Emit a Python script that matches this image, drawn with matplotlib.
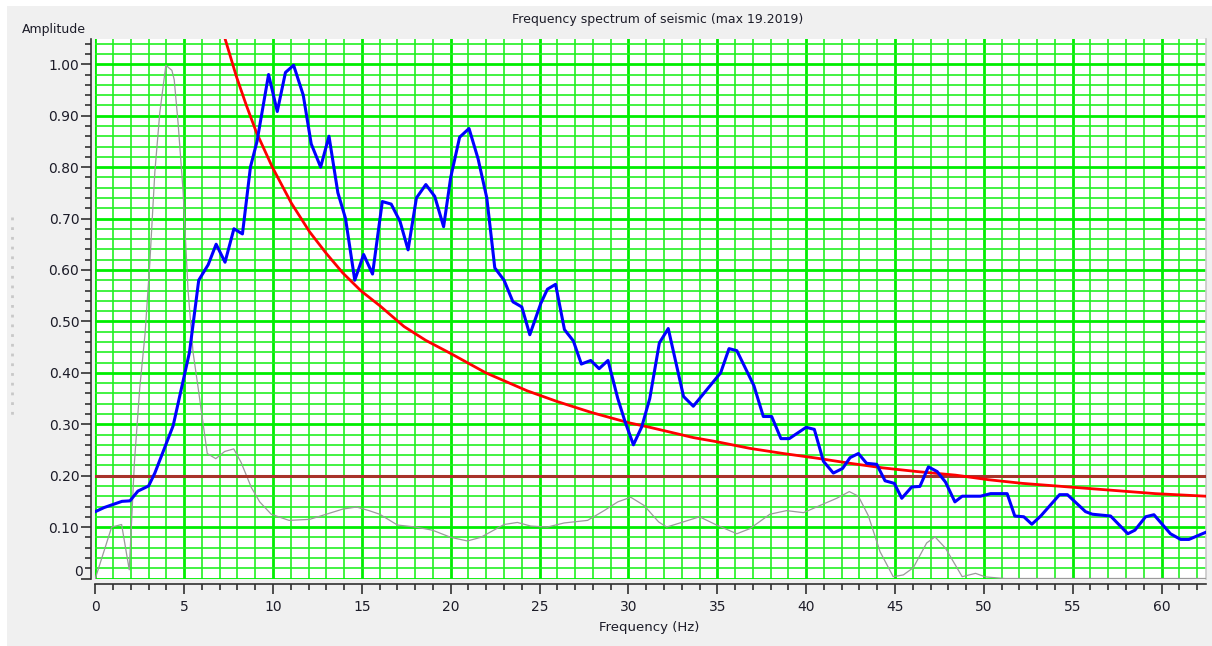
import numpy as np
import matplotlib
matplotlib.use("Agg")
import matplotlib.pyplot as plt
from matplotlib.patches import Rectangle
from matplotlib.lines import Line2D
from matplotlib.ticker import MultipleLocator, FuncFormatter
import matplotlib.transforms as mtransforms

# espectro normalizado (azul)
freq_spec = [0.0, 0.5, 1.0, 1.5, 1.95, 2.4, 3.0, 3.35, 4.38, 5.3, 5.82, 6.35, 6.8, 7.3,
             7.8, 8.28, 8.73, 9.1, 9.75, 10.24, 10.7, 11.16, 11.7, 12.15, 12.68, 13.15,
             13.65, 14.08, 14.6, 15.1, 15.6, 16.15, 16.65, 17.15, 17.6, 18.07, 18.6, 19.1,
             19.6, 20.0, 20.5, 21.03, 21.54, 22.03, 22.48, 23.0, 23.5, 24.0, 24.45, 25.07,
             25.44, 25.9, 26.4, 26.9, 27.35, 27.88, 28.35, 28.85, 29.4, 29.8, 30.28, 30.75,
             31.2, 31.74, 32.24, 33.1, 33.65, 35.19, 35.66, 36.1, 37.06, 37.59, 38.06, 38.58,
             39.05, 40.0, 40.46, 40.97, 41.53, 42.05, 42.47, 42.94, 43.4, 43.97, 44.44, 44.96,
             45.38, 45.94, 46.4, 46.88, 47.37, 47.84, 48.37, 48.78, 49.81, 50.38, 51.31,
             51.74, 52.25, 52.7, 53.2, 54.26, 54.7, 55.72, 56.1, 57.13, 58.1, 58.5, 59.1,
             59.57, 60.5, 61.07, 61.54, 62.5]
amp_spec = [0.130, 0.138, 0.144, 0.150, 0.151, 0.170, 0.180, 0.205, 0.297, 0.44, 0.58, 0.61,
            0.65, 0.615, 0.68, 0.67, 0.80, 0.85, 0.98, 0.908, 0.984, 0.998, 0.94, 0.845, 0.80,
            0.86, 0.75, 0.70, 0.58, 0.63, 0.592, 0.733, 0.728, 0.694, 0.639, 0.74, 0.766,
            0.743, 0.684, 0.78, 0.858, 0.875, 0.816, 0.74, 0.604, 0.58, 0.538, 0.528, 0.474,
            0.535, 0.5625, 0.572, 0.484, 0.462, 0.417, 0.424, 0.408, 0.424, 0.35, 0.306,
            0.26, 0.295, 0.35, 0.458, 0.486, 0.354, 0.335, 0.40, 0.447, 0.443, 0.375, 0.315,
            0.315, 0.272, 0.272, 0.294, 0.29, 0.228, 0.205, 0.214, 0.235, 0.243, 0.224,
            0.222, 0.19, 0.185, 0.156, 0.178, 0.179, 0.217, 0.208, 0.1875, 0.149, 0.16,
            0.16, 0.165, 0.165, 0.1215, 0.12, 0.1055, 0.1215, 0.163, 0.163, 0.13, 0.125,
            0.1215, 0.087, 0.094, 0.12, 0.124, 0.087, 0.076, 0.076, 0.09]

# ondicula de referencia (gris)
freq_wav = [0.0, 0.92, 1.48, 1.91, 2.2, 2.5, 2.8, 3.07, 3.35, 3.63, 3.97, 4.31, 4.44, 4.66,
            4.94, 5.22, 5.5, 5.79, 6.07, 6.3, 6.78, 7.28, 7.79, 8.2, 8.78, 9.25, 9.9, 10.9,
            12.06, 13.0, 13.93, 14.7, 15.4, 16.0, 17.0, 18.03, 18.97, 20.0, 20.94, 21.69,
            23.0, 23.75, 24.5, 25.44, 26.38, 27.7, 28.63, 29.4, 30.13, 30.88, 31.7, 32.15,
            32.9, 34.0, 34.96, 36.1, 36.84, 37.96, 38.9, 39.85, 40.78, 41.72, 42.43, 42.94,
            43.5, 44.16, 44.9, 45.47, 46.03, 46.78, 47.25, 47.84, 48.78, 49.53, 50.1, 51.2,
            62.5]
amp_wav = [0.0, 0.10, 0.105, 0.017, 0.225, 0.37, 0.476, 0.615, 0.79, 0.906, 0.998, 0.988,
           0.97, 0.885, 0.753, 0.56, 0.44, 0.37, 0.30, 0.243, 0.233, 0.247, 0.252, 0.226,
           0.177, 0.149, 0.125, 0.113, 0.115, 0.125, 0.135, 0.139, 0.132, 0.125, 0.104, 0.10,
           0.094, 0.08, 0.073, 0.08, 0.105, 0.109, 0.102, 0.10, 0.108, 0.113, 0.132, 0.149,
           0.158, 0.142, 0.11, 0.10, 0.108, 0.12, 0.104, 0.087, 0.097, 0.125, 0.132, 0.128,
           0.142, 0.156, 0.169, 0.16, 0.122, 0.052, 0.0035, 0.007, 0.021, 0.069, 0.081,
           0.059, 0.0035, 0.01, 0.003, 0.0, 0.0]

# curva de atenuacion (roja)
freq_att = [7.28, 7.94, 8.5, 9.06, 9.96, 11.03, 12.06, 13.0, 13.93, 14.96, 15.99, 17.37,
            18.6, 20.0, 21.97, 24.3, 26.0, 27.9, 30.0, 31.2, 33.65, 34.96, 36.84, 38.72, 40.6,
            42.47, 44.34, 46.22, 48.4, 50.28, 52.16, 54.03, 55.9, 57.79, 59.66, 62.5]
amp_att = [1.052, 0.976, 0.92, 0.868, 0.80, 0.73, 0.674, 0.632, 0.594, 0.559, 0.531, 0.49,
           0.463, 0.4375, 0.40, 0.365, 0.344, 0.323, 0.303, 0.294, 0.274, 0.266, 0.253, 0.243,
           0.234, 0.224, 0.215, 0.208, 0.201, 0.192, 0.185, 0.18, 0.175, 0.17, 0.165, 0.16]

umbral = 0.20
f_max = 19.2019

W, H = 1212, 646
fig = plt.figure(figsize=(W / 100, H / 100), dpi=100, facecolor="white")

# panel gris de la ventana
fig.patches.append(Rectangle((7 / W, 0), 1 - 7 / W, 1 - 6 / H, transform=fig.transFigure,
                             facecolor="#f0f0f0", edgecolor="none", zorder=-10))
fig.lines.append(Line2D([12 / W, 12 / W], [1 - 217 / H, 1 - 417 / H], transform=fig.transFigure,
                        color="#c8c8c8", lw=2, ls=(0, (1, 2.5))))

ax = fig.add_axes([95.3 / W, 67.5 / H, (1206 - 95.3) / W, (578.5 - 38.5) / H])
ax.set_facecolor("white")
ax.set_xlim(0, 62.5)
ax.set_ylim(0, 1.05)

ax.xaxis.set_major_locator(MultipleLocator(5))
ax.xaxis.set_minor_locator(MultipleLocator(1))
ax.yaxis.set_major_locator(MultipleLocator(0.1))
ax.yaxis.set_minor_locator(MultipleLocator(0.02))
# el cero se escribe aparte, un poco mas arriba
ax.yaxis.set_major_formatter(FuncFormatter(lambda v, p: "" if abs(v) < 1e-9 else "%.2f" % v))
ax.xaxis.set_major_formatter(FuncFormatter(lambda v, p: "%d" % round(v)))

ax.set_axisbelow(True)
ax.grid(which="major", color="#00ee00", lw=2.0)
ax.grid(which="minor", color="#22f022", lw=1.2)

ax.plot(freq_wav, amp_wav, color="#9a9a9a", lw=0.9, zorder=3)
ax.axhline(umbral, color="#a8322a", lw=2.2, zorder=4)
ax.plot(freq_att, amp_att, color="#ff0000", lw=2.0, zorder=5)
ax.plot(freq_spec, amp_spec, color="#0000ff", lw=2.2, zorder=6)

ax.spines["top"].set_visible(False)
ax.spines["right"].set_color("#c8c8c8")
ax.spines["right"].set_linewidth(1.2)
ax.spines["left"].set_position(("outward", 3))
ax.spines["bottom"].set_position(("outward", 4))
for s in ["left", "bottom"]:
    ax.spines[s].set_color("#303030")
    ax.spines[s].set_linewidth(1.2)

ax.tick_params(which="major", direction="out", length=7.5, width=1.2, color="#303030",
               labelsize=10, labelcolor="#1c1c28")
ax.tick_params(axis="y", which="major", pad=1)
ax.tick_params(axis="x", which="major", pad=4)
ax.tick_params(which="minor", direction="out", length=4, width=1.2, color="#303030")

off = mtransforms.ScaledTranslation(-12 / 100, 7 / 100, fig.dpi_scale_trans)
ax.text(0, 0, "0", transform=ax.get_yaxis_transform() + off, ha="right", va="center",
        fontsize=10, color="#1c1c28", clip_on=False)

fig.text(657.5 / W, 1 - 20 / H, "Frequency spectrum of seismic (max %.4f)" % f_max,
         ha="center", va="center", fontsize=9, color="#1c1c28")
fig.text(54 / W, 1 - 29 / H, "Amplitude", ha="center", va="center", fontsize=9,
         color="#1c1c28")
fig.text(649 / W, 1 - 628 / H, "Frequency (Hz)", ha="center", va="center", fontsize=9.5,
         color="#1c1c28")

fig.savefig("out.png", dpi=100, facecolor=fig.get_facecolor())
